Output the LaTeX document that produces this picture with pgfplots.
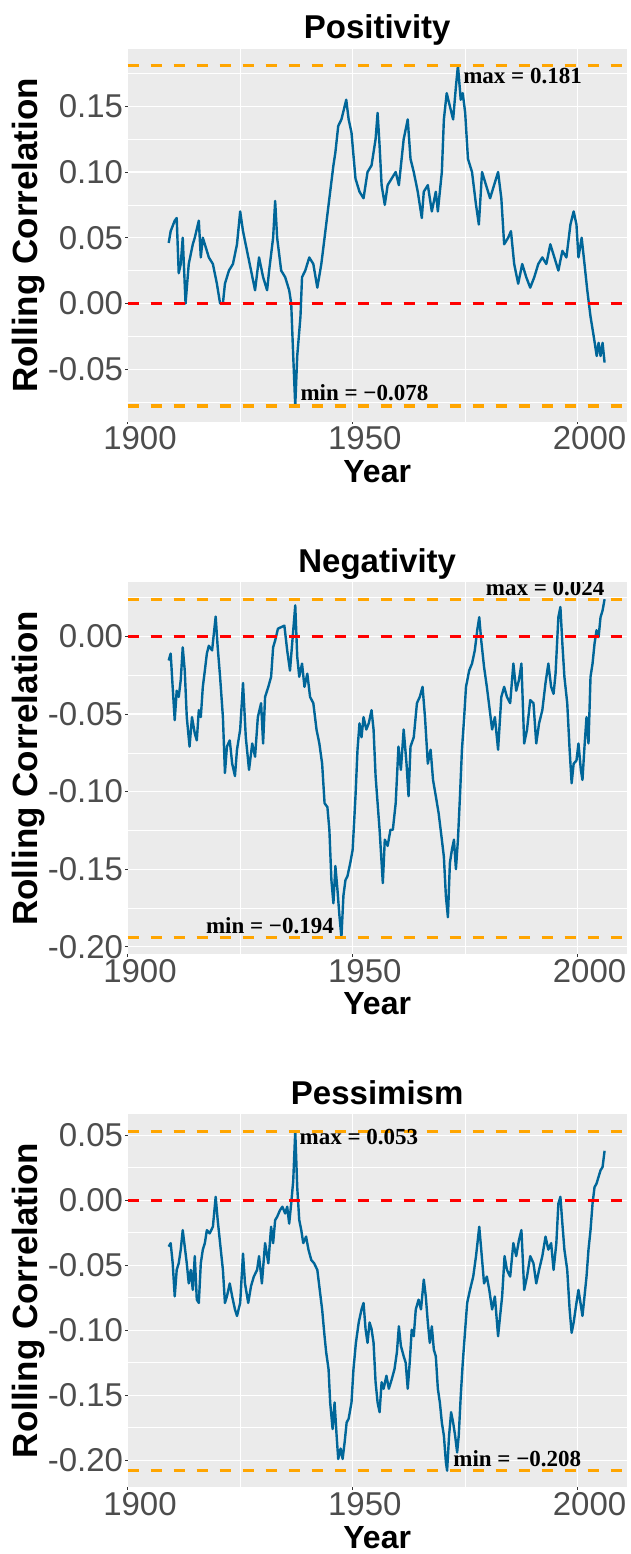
\documentclass[border=0pt]{standalone}
\usepackage{fontspec}
\setmainfont{Liberation Sans}
\newfontfamily\annfont{Liberation Serif}
\usepackage{pgfplots}
\pgfplotsset{compat=1.18}
\definecolor{panelbg}{HTML}{EBEBEB}
\definecolor{ticktxt}{HTML}{4D4D4D}
\definecolor{serieblue}{HTML}{006699}
\definecolor{hlorange}{HTML}{FFA500}
\tikzset{ann/.style={font=\annfont\bfseries\fontsize{23}{23}\selectfont, inner sep=0pt, text=black}}
\pgfplotsset{
  ggpanel/.style={
    scale only axis, width=499pt,
    xmin=1900, xmax=2011,
    axis background/.style={fill=panelbg},
    axis line style={draw=none},
    xtick={1900,1950,2000}, minor xtick={1925,1975},
    xticklabels={1900,1950,2000},
    grid=both,
    major grid style={white, line width=1.1pt},
    minor grid style={white, line width=0.55pt},
    tick align=outside, major tick length=2.5pt, minor tick length=0pt,
    tick style={color=black!80, line width=0.8pt},
    tick pos=left,
    scaled ticks=false,
    ticklabel style={font=\fontsize{33}{33}\selectfont, text=ticktxt},
    xticklabel style={anchor=north, inner sep=0pt, yshift=-2.5pt, xshift=12.3pt},
    yticklabel style={anchor=east, inner sep=0pt, xshift=-1.9pt},
    title style={font=\fontsize{33}{33}\selectfont\bfseries, at={(axis description cs:0.5,1)}, anchor=base, yshift=4pt, inner sep=0pt},
    xlabel style={font=\fontsize{32}{32}\selectfont\bfseries, at={(axis description cs:0.5,-0.163)}, anchor=base, inner sep=0pt},
    ylabel style={font=\fontsize{35}{35}\selectfont\bfseries, at={(axis description cs:-0.1798,0.5)}, anchor=base, inner sep=0pt},
    xlabel=Year, ylabel=Rolling Correlation,
  },
  serie/.style={color=serieblue, line width=2.4pt, line join=round, mark=none},
  hlo/.style={hlorange, line width=3.2pt, dash pattern=on 11.7pt off 11.3pt, mark=none},
  hlr/.style={red, line width=3.2pt, dash pattern=on 11.7pt off 11.3pt, mark=none},
}
\begin{document}
\begin{tikzpicture}
\useasboundingbox (0,0) rectangle (630pt,-1554pt);
% ---------------- Positivity ----------------
\begin{axis}[ggpanel, at={(127.7pt,-49pt)}, anchor=north west, height=372.7pt,
  ymin=-0.0900, ymax=0.1936,
  ytick={-0.05,0,0.05,0.10,0.15}, yticklabels={-0.05,0.00,0.05,0.10,0.15},
  minor ytick={-0.075,-0.025,0.025,0.075,0.125,0.175},
  title={Positivity}]
\addplot[serie] table {
1909.12 0.046
1909.56 0.055
1910.46 0.063
1910.90 0.065
1911.35 0.023
1911.80 0.030
1912.24 0.050
1912.87 0.000
1913.58 0.030
1914.48 0.045
1914.92 0.050
1915.82 0.063
1916.26 0.035
1916.71 0.050
1917.16 0.045
1918.05 0.035
1918.95 0.030
1919.84 0.015
1920.55 0.000
1921.18 0.000
1921.63 0.015
1922.52 0.025
1923.41 0.030
1924.31 0.045
1925.02 0.070
1925.65 0.055
1926.54 0.040
1927.44 0.025
1928.33 0.010
1929.22 0.035
1930.12 0.020
1931.01 0.010
1931.46 0.025
1932.35 0.050
1932.80 0.078
1933.24 0.050
1934.14 0.025
1935.03 0.020
1935.48 0.015
1935.92 0.010
1936.37 0.000
1936.82 -0.040
1937.27 -0.078
1937.71 -0.040
1938.43 -0.010
1938.78 0.020
1939.50 0.025
1940.39 0.035
1941.29 0.030
1942.18 0.012
1943.07 0.030
1943.97 0.055
1944.86 0.080
1945.76 0.105
1946.20 0.115
1946.83 0.135
1947.54 0.140
1948.26 0.150
1948.61 0.155
1949.15 0.140
1949.78 0.130
1950.67 0.095
1951.56 0.085
1952.46 0.080
1953.35 0.100
1954.24 0.105
1955.14 0.125
1955.59 0.145
1956.03 0.120
1956.48 0.090
1957.19 0.075
1957.82 0.090
1958.71 0.095
1959.61 0.100
1960.32 0.090
1961.39 0.125
1962.29 0.140
1962.91 0.110
1963.63 0.100
1964.52 0.085
1965.42 0.065
1965.86 0.085
1966.76 0.090
1967.65 0.070
1968.54 0.085
1968.99 0.070
1969.88 0.100
1970.33 0.140
1970.96 0.160
1971.67 0.150
1972.39 0.140
1973.01 0.165
1973.46 0.181
1974.08 0.155
1974.53 0.160
1975.07 0.145
1975.69 0.110
1976.59 0.100
1977.48 0.075
1978.11 0.060
1978.82 0.100
1979.71 0.090
1980.61 0.080
1981.50 0.090
1982.39 0.100
1983.11 0.080
1983.74 0.045
1984.63 0.050
1985.25 0.055
1985.97 0.030
1986.86 0.015
1987.76 0.030
1988.65 0.020
1989.54 0.012
1990.44 0.020
1991.33 0.030
1992.23 0.035
1993.12 0.030
1994.01 0.045
1994.91 0.035
1995.80 0.025
1996.69 0.040
1997.59 0.035
1998.48 0.060
1999.20 0.070
1999.82 0.060
2000.27 0.035
2000.98 0.050
2001.61 0.030
2002.23 0.010
2002.95 -0.010
2003.66 -0.025
2004.33 -0.040
2004.74 -0.030
2005.18 -0.040
2005.63 -0.030
2006.08 -0.045
};
\addplot[hlr] coordinates {(1900,0) (2011,0)};
\addplot[hlo] coordinates {(1900,0.181) (2011,0.181)};
\addplot[hlo] coordinates {(1900,-0.078) (2011,-0.078)};
\node[ann, anchor=base west] at (axis cs:1974.6,0.1675) {max = 0.181};
\node[ann, anchor=base west] at (axis cs:1938.4,-0.0735) {min = −0.078};
\end{axis}
% ---------------- Negativity ----------------
\begin{axis}[ggpanel, at={(127.7pt,-582.3pt)}, anchor=north west, height=372pt,
  ymin=-0.2049, ymax=0.0349,
  ytick={-0.20,-0.15,-0.10,-0.05,0}, yticklabels={-0.20,-0.15,-0.10,-0.05,0.00},
  minor ytick={-0.175,-0.125,-0.075,-0.025,0.025},
  title={Negativity}]
\addplot[serie] table {
1909.12 -0.0155
1909.56 -0.011
1910.01 -0.033
1910.46 -0.054
1910.90 -0.035
1911.35 -0.039
1911.80 -0.028
1912.24 -0.007
1912.69 -0.022
1913.14 -0.052
1913.76 -0.071
1914.30 -0.052
1914.92 -0.0625
1915.37 -0.067
1915.82 -0.0475
1916.26 -0.052
1916.71 -0.0325
1917.16 -0.022
1917.61 -0.011
1918.05 -0.006
1918.77 -0.009
1919.57 0.0128
1920.02 -0.007
1920.55 -0.026
1921.18 -0.052
1921.63 -0.088
1922.07 -0.071
1922.70 -0.067
1923.24 -0.082
1923.86 -0.090
1924.31 -0.073
1925.02 -0.060
1925.65 -0.030
1926.27 -0.065
1926.99 -0.086
1927.70 -0.069
1928.33 -0.0775
1928.95 -0.052
1929.67 -0.043
1930.12 -0.069
1930.56 -0.039
1931.28 -0.0325
1931.90 -0.026
1932.35 -0.007
1932.80 -0.0026
1933.42 0.005
1934.14 0.006
1934.85 0.007
1935.48 -0.009
1936.10 -0.022
1936.64 -0.0026
1937.27 0.020
1937.71 -0.013
1938.16 -0.026
1938.78 -0.0175
1939.32 -0.0325
1939.95 -0.024
1940.57 -0.039
1941.29 -0.043
1942.00 -0.060
1942.63 -0.069
1943.25 -0.082
1943.79 -0.1075
1944.42 -0.110
1944.86 -0.1246
1945.31 -0.157
1945.76 -0.172
1946.20 -0.148
1946.65 -0.163
1947.10 -0.180
1947.54 -0.194
1947.99 -0.167
1948.44 -0.157
1948.88 -0.1546
1949.51 -0.146
1950.04 -0.1375
1950.67 -0.103
1951.12 -0.073
1951.56 -0.056
1952.01 -0.065
1952.46 -0.052
1953.08 -0.060
1953.62 -0.056
1954.24 -0.0475
1954.69 -0.060
1955.14 -0.090
1955.59 -0.1075
1956.03 -0.1246
1956.48 -0.146
1956.75 -0.159
1957.19 -0.131
1957.82 -0.135
1958.45 -0.1246
1958.98 -0.1246
1959.61 -0.1075
1960.23 -0.071
1960.77 -0.086
1961.39 -0.060
1962.02 -0.082
1962.47 -0.103
1962.91 -0.071
1963.63 -0.065
1964.34 -0.043
1964.97 -0.039
1965.59 -0.0325
1966.13 -0.052
1966.76 -0.082
1967.38 -0.073
1967.92 -0.0925
1968.54 -0.103
1969.17 -0.114
1969.88 -0.131
1970.33 -0.142
1970.78 -0.1675
1971.23 -0.181
1971.67 -0.146
1972.12 -0.1375
1972.57 -0.131
1973.01 -0.150
1973.46 -0.131
1973.91 -0.103
1974.35 -0.073
1974.80 -0.054
1975.25 -0.0325
1975.96 -0.022
1976.59 -0.0175
1977.21 -0.009
1977.75 0.004
1978.20 0.0124
1978.64 -0.0026
1979.27 -0.0197
1979.89 -0.0325
1980.43 -0.045
1981.06 -0.060
1981.68 -0.052
1982.39 -0.073
1983.11 -0.039
1983.74 -0.0325
1984.36 -0.039
1985.08 -0.043
1985.79 -0.0175
1986.42 -0.035
1987.04 -0.028
1987.58 -0.0175
1988.20 -0.069
1988.83 -0.060
1989.54 -0.041
1990.26 -0.043
1990.88 -0.069
1991.51 -0.056
1992.23 -0.0475
1992.94 -0.030
1993.57 -0.0175
1994.19 -0.0325
1994.73 -0.037
1995.17 -0.024
1995.80 0.0124
1996.25 0.019
1996.69 -0.0047
1997.14 -0.026
1997.77 -0.043
1998.30 -0.073
1998.75 -0.0946
1999.20 -0.082
1999.82 -0.080
2000.27 -0.069
2000.80 -0.086
2001.16 -0.0925
2001.61 -0.071
2002.06 -0.052
2002.50 -0.069
2002.95 -0.026
2003.40 -0.0175
2003.84 -0.0047
2004.29 0.004
2004.74 -0.0004
2005.18 0.0124
2005.63 0.0167
2006.08 0.024
};
\addplot[hlr] coordinates {(1900,0) (2011,0)};
\addplot[hlo] coordinates {(1900,0.024) (2011,0.024)};
\addplot[hlo] coordinates {(1900,-0.194) (2011,-0.194)};
\node[ann, anchor=base east] at (axis cs:2006.1,0.0264) {max = 0.024};
\node[ann, anchor=base east] at (axis cs:1945.9,-0.1912) {min = −0.194};
\end{axis}
% ---------------- Pessimism ----------------
\begin{axis}[ggpanel, at={(127.7pt,-1114pt)}, anchor=north west, height=373.3pt,
  ymin=-0.2208, ymax=0.0663,
  ytick={-0.20,-0.15,-0.10,-0.05,0,0.05}, yticklabels={-0.20,-0.15,-0.10,-0.05,0.00,0.05},
  minor ytick={-0.175,-0.125,-0.075,-0.025,0.025},
  title={Pessimism}]
\addplot[serie] table {
1909.12 -0.0357
1909.56 -0.033
1910.01 -0.0485
1910.46 -0.074
1910.90 -0.0536
1911.35 -0.0485
1911.80 -0.038
1912.24 -0.023
1912.69 -0.0357
1913.14 -0.0485
1913.58 -0.064
1914.03 -0.0536
1914.48 -0.069
1914.92 -0.043
1915.37 -0.0765
1915.82 -0.079
1916.26 -0.0485
1916.71 -0.038
1917.16 -0.033
1917.61 -0.023
1918.23 -0.0255
1918.95 -0.0204
1919.57 0.0026
1920.02 -0.0153
1920.55 -0.033
1921.18 -0.0536
1921.63 -0.079
1922.07 -0.074
1922.70 -0.064
1923.24 -0.074
1923.86 -0.084
1924.31 -0.089
1925.02 -0.079
1925.65 -0.041
1926.09 -0.064
1926.81 -0.079
1927.44 -0.066
1928.06 -0.0587
1928.78 -0.0536
1929.22 -0.043
1929.85 -0.064
1930.56 -0.033
1931.28 -0.0485
1931.90 -0.0204
1932.35 -0.033
1932.80 -0.0153
1933.24 -0.0128
1933.87 -0.0077
1934.41 -0.005
1935.03 -0.0102
1935.48 -0.005
1935.92 -0.018
1936.37 -0.0026
1936.82 0.015
1937.27 0.053
1937.71 0.010
1938.16 -0.0153
1938.61 -0.023
1939.05 -0.033
1939.68 -0.028
1940.21 -0.038
1940.84 -0.046
1941.47 -0.0485
1942.18 -0.0536
1942.72 -0.069
1943.25 -0.084
1943.79 -0.1046
1944.15 -0.117
1944.68 -0.130
1945.04 -0.1556
1945.58 -0.176
1946.02 -0.1556
1946.47 -0.181
1946.83 -0.199
1947.36 -0.191
1947.81 -0.199
1948.26 -0.186
1948.70 -0.171
1949.15 -0.168
1949.78 -0.1556
1950.22 -0.130
1950.76 -0.1097
1951.39 -0.094
1952.01 -0.084
1952.46 -0.079
1952.91 -0.099
1953.35 -0.1097
1953.80 -0.094
1954.24 -0.099
1954.69 -0.1097
1955.14 -0.140
1955.59 -0.1556
1956.03 -0.163
1956.48 -0.140
1956.93 -0.145
1957.55 -0.135
1958.09 -0.145
1958.71 -0.138
1959.34 -0.130
1959.88 -0.117
1960.32 -0.097
1960.77 -0.112
1961.39 -0.120
1961.84 -0.125
1962.29 -0.145
1962.73 -0.125
1963.18 -0.0995
1963.63 -0.1046
1964.08 -0.084
1964.70 -0.0765
1965.24 -0.084
1965.86 -0.061
1966.31 -0.074
1966.76 -0.094
1967.20 -0.1097
1967.65 -0.097
1968.10 -0.115
1968.54 -0.120
1968.99 -0.145
1969.44 -0.1556
1969.88 -0.171
1970.33 -0.181
1970.78 -0.2015
1971.05 -0.208
1971.49 -0.181
1971.94 -0.163
1972.39 -0.171
1972.83 -0.181
1973.28 -0.194
1973.64 -0.181
1974.08 -0.1505
1974.53 -0.125
1975.07 -0.0995
1975.51 -0.079
1976.14 -0.069
1976.86 -0.0587
1977.48 -0.043
1978.20 -0.0204
1978.64 -0.038
1979.27 -0.064
1979.89 -0.0587
1980.43 -0.069
1981.06 -0.084
1981.68 -0.074
1982.39 -0.1046
1982.84 -0.089
1983.29 -0.074
1983.83 -0.043
1984.36 -0.0536
1985.08 -0.0587
1985.79 -0.033
1986.42 -0.043
1987.04 -0.0306
1987.58 -0.023
1988.20 -0.069
1988.83 -0.0587
1989.54 -0.043
1990.26 -0.0485
1990.88 -0.064
1991.51 -0.0536
1992.23 -0.043
1992.94 -0.028
1993.57 -0.038
1994.19 -0.033
1994.73 -0.0536
1995.35 -0.033
1995.80 -0.0026
1996.25 0.0026
1996.69 -0.018
1997.14 -0.038
1997.77 -0.0536
1998.30 -0.084
1998.75 -0.102
1999.20 -0.094
1999.82 -0.079
2000.27 -0.069
2000.72 -0.079
2001.16 -0.089
2001.61 -0.074
2002.06 -0.0587
2002.50 -0.038
2002.95 -0.023
2003.40 -0.0026
2003.84 0.010
2004.29 0.0128
2004.74 0.018
2005.18 0.023
2005.63 0.0255
2006.08 0.038
};
\addplot[hlr] coordinates {(1900,0) (2011,0)};
\addplot[hlo] coordinates {(1900,0.053) (2011,0.053)};
\addplot[hlo] coordinates {(1900,-0.208) (2011,-0.208)};
\node[ann, anchor=base west] at (axis cs:1938.2,0.0432) {max = 0.053};
\node[ann, anchor=base west] at (axis cs:1972.4,-0.2049) {min = −0.208};
\end{axis}
\end{tikzpicture}
\end{document}
